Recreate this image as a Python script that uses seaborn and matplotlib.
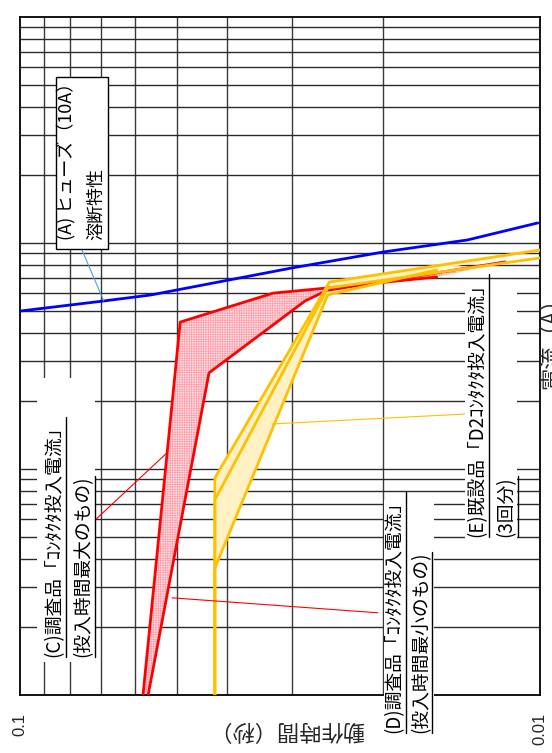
import matplotlib
matplotlib.use("Agg")
import matplotlib.pyplot as plt
from matplotlib.patches import Rectangle
import seaborn as sns
import pandas as pd

sns.set_theme(style="white")
plt.rcParams['font.family'] = ['Noto Sans CJK JP', 'DejaVu Sans']
plt.rcParams['hatch.linewidth'] = 0.5

# Operating time (s) against current (A)
fuse_time = [0.1, 0.069, 0.056, 0.030, 0.020, 0.0138, 0.0101]
fuse_current = [49.9, 55.3, 58.8, 77.4, 91.1, 102.9, 122.4]

c_time = [0.0580, 0.0492, 0.0326, 0.0257, 0.0158]
c_current = [1.0, 44.6, 59.9, 63.1, 70.6]

d_time = [0.0567, 0.0433, 0.0283, 0.0257, 0.01167]
d_current = [1.0, 26.6, 55.3, 61.6, 82.3]

e1_time = [0.0422, 0.0422, 0.0254, 0.0100]
e1_current = [1.0, 9.12, 67.1, 92.9]
e2_time = [0.0422, 0.0422, 0.0256, 0.0100]
e2_current = [1.0, 7.29, 63.1, 85.7]
e3_time = [0.0422, 0.0422, 0.0256, 0.0158]
e3_current = [1.0, 3.64, 58.8, 75.8]

x_grid = [0.02, 0.03, 0.04, 0.05, 0.06, 0.07, 0.08, 0.09]
y_grid = [2, 3, 4, 5, 6, 7, 8, 9, 10, 20, 30, 40, 50, 60, 70, 80, 90,
          100, 200, 300, 400, 500, 600, 700, 800, 900]
time_ticks = [0.1, 0.01]
time_tick_labels = ["0.1", "0.01"]

W, H = 552, 753
fig = plt.figure(figsize=(W / 100, H / 100), dpi=100)
ax = fig.add_axes([20 / W, 1 - 695 / H, 520 / W, 678.3 / H])
ax.set_xscale("log")
ax.set_yscale("log")
ax.set_xlim(0.1, 0.01)
ax.set_ylim(1.0, 1000)
ax.set_xticks([])
ax.set_yticks([])
ax.minorticks_off()
for s in ax.spines.values():
    s.set_color("black")
    s.set_linewidth(1.3)

for v in x_grid:
    ax.axvline(v, color="#3a3a3a", lw=1.0, zorder=1)
for v in y_grid:
    ax.axhline(v, color="#2a2a2a", lw=1.0, zorder=1)


def px(x, y):
    return x / W, 1 - y / H


# shaded bands
ax.fill(c_time + d_time[::-1], c_current + d_current[::-1], facecolor="#ffdfe2",
        edgecolor="#ff9eaa", hatch="+++++++", linewidth=0, zorder=2)
ax.fill(e1_time + e3_time[::-1], e1_current + e3_current[::-1], facecolor="#fff1c4",
        edgecolor="#ffe08a", linewidth=0, zorder=2)

curves = [
    (fuse_time, fuse_current, "#0000ff"),
    (c_time, c_current, "#ff0000"),
    (d_time, d_current, "#ff0000"),
    (e1_time, e1_current, "#ffc000"),
    (e2_time, e2_current, "#ffc000"),
    (e3_time, e3_current, "#ffc000"),
]
for t, i, col in curves:
    df = pd.DataFrame({"time": t, "current": i})
    sns.lineplot(data=df, x="time", y="current", sort=False, color=col,
                 lw=2.0, ax=ax, zorder=4, estimator=None)
ax.set_xlabel("")
ax.set_ylabel("")

# leader lines
ax.plot([0.0760, 0.069], [92.9, 55.3], color="#5b9bd5", lw=0.8, zorder=5)
ax.plot([0.0724, 0.0522], [5.82, 11.76], color="#ff0000", lw=0.8, zorder=5)
ax.plot([0.0510, 0.0205], [2.69, 2.31], color="#ff0000", lw=0.8, zorder=5)
ax.plot([0.0328, 0.01382], [15.8, 17.5], color="#ffc000", lw=0.8, zorder=5)

# white backgrounds behind the annotations
for (x0, y0, x1, y1) in [(37, 378, 95, 662), (384, 500, 434, 742), (465, 286, 517, 542)]:
    fx0, fy1 = px(x0, y1)
    fx1, fy0 = px(x1, y0)
    fig.patches.append(Rectangle((fx0, fy1), fx1 - fx0, fy0 - fy1, transform=fig.transFigure,
                                 facecolor="white", edgecolor="none", zorder=6))
# fuse annotation box
fx0, fy1 = px(56, 249)
fx1, fy0 = px(108, 77)
fig.patches.append(Rectangle((fx0, fy1), fx1 - fx0, fy0 - fy1, transform=fig.transFigure,
                             facecolor="white", edgecolor="black", lw=1.0, zorder=6))

labels = [
    ("(A) ヒューズ（10A）", 66, 240, 13, False),
    ("溶断特性", 96, 240, 13, False),
    ("(C)調査品「ｺﾝﾀｸﾀ投入電流」", 54, 657, 13.5, True),
    ("(投入時間最大のもの)", 83, 657, 13.5, True),
    ("(D)調査品「ｺﾝﾀｸﾀ投入電流」", 394, 733, 13.5, True),
    ("(投入時間最小のもの)", 421, 733, 13.5, True),
    ("(E)既設品「D2ｺﾝﾀｸﾀ投入電流」", 477, 537, 13.5, True),
    ("(3回分)", 506, 537, 13.5, True),
]
fig.canvas.draw()
renderer = fig.canvas.get_renderer()
for txt, x, y, fs, underline in labels:
    fx, fy = px(x, y)
    t = fig.text(fx, fy, txt, rotation=90, ha="center", va="bottom", fontsize=fs,
                 color="black", zorder=8)
    if underline:
        bb = t.get_window_extent(renderer=renderer)
        ux = (bb.x1 + 1) / W
        fig.add_artist(plt.Line2D([ux, ux], [bb.y0 / H, bb.y1 / H], color="black",
                                  lw=1.0, transform=fig.transFigure, zorder=8))

# axis texts
for v, lab, x in zip(time_ticks, time_tick_labels, [20, 540]):
    fx, fy = px(x, 713)
    fig.text(fx, fy, lab, rotation=90, ha="center", va="top", fontsize=12,
             family=["Liberation Sans", "DejaVu Sans"])
fx, fy = px(286, 730)
fig.text(fx, fy, "動作時間（秒）", rotation=180, ha="center", va="center", fontsize=16)
fx, fy = px(550, 338)
fig.text(fx, fy, "電流（A）", rotation=90, ha="center", va="center", fontsize=16)

fig.savefig("out.png", dpi=100)
